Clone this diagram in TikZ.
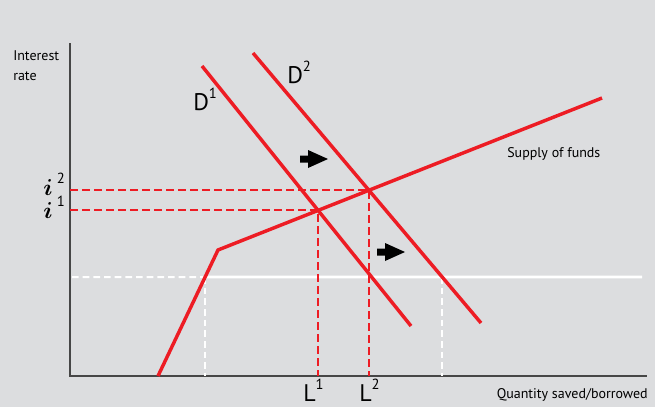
\documentclass[tikz,border=0pt]{standalone}
\usepackage{fontspec}
\usepackage{amsmath}
\setmainfont{PT Sans}
\usetikzlibrary{calc}
\definecolor{bg}{RGB}{220,221,223}
\definecolor{curve}{RGB}{237,28,36}
\definecolor{axis}{RGB}{70,70,70}

\newcommand{\supnum}[1]{\raisebox{9pt}{\fontsize{11}{11}\selectfont #1}}

\begin{document}
\begin{tikzpicture}[
    x=0.75pt, y=-0.75pt,
    ax/.style={axis, line width=1.1pt},
    crv/.style={curve, line width=2.6pt},
    guide/.style={curve, line width=1.6pt, dash pattern=on 6pt off 3pt},
    floor/.style={white, line width=2.2pt},
    floordash/.style={white, line width=1.5pt, dash pattern=on 5pt off 3pt},
    shiftarrow/.style={fill=black},
    lbl/.style={font=\fontsize{10.5}{15}\selectfont, inner sep=0pt},
    big/.style={font=\fontsize{18}{18}\selectfont, inner sep=0pt, anchor=base west},
    rate/.style={big, font=\fontsize{19}{19}\selectfont}
  ]
  % page and panel
  \fill[white] (0,0) rectangle (660,407);
  \fill[bg] (0,0) rectangle (655,407);
  \useasboundingbox (0,0) rectangle (660,407);

  % axes
  \coordinate (O) at (70,376);
  \coordinate (ytop) at (70,43);
  \coordinate (xend) at (647,376);
  \draw[ax] (ytop) -- (O) -- (xend);

  % curve end points
  \coordinate (s0) at (158,376);
  \coordinate (s1) at (218,250);
  \coordinate (s2) at (602,98);
  \coordinate (a1) at (202,66);
  \coordinate (a2) at (411,326);
  \coordinate (b1) at (253,53);
  \coordinate (b2) at (481,323);
  \coordinate (w1) at (72,277);
  \coordinate (w2) at (642,277);

  % crossings
  \coordinate (e1) at (intersection of s1--s2 and a1--a2);
  \coordinate (e2) at (intersection of s1--s2 and b1--b2);
  \coordinate (f1) at (intersection of s0--s1 and w1--w2);
  \coordinate (f2) at (intersection of b1--b2 and w1--w2);

  % white floor line
  \draw[floordash] (w1) -- (f1);
  \draw[floor] (f1) -- (w2);
  \draw[floordash] (f1) -- (f1 |- O);
  \draw[floordash] (f2) -- (f2 |- O);

  % guide lines
  \draw[guide] (O |- e1) -- (e1) -- (e1 |- O);
  \draw[guide] (O |- e2) -- (e2) -- (e2 |- O);

  % supply and demand
  \draw[crv] (s0) -- (s1) -- (s2);
  \draw[crv] (a1) -- (a2);
  \draw[crv] (b1) -- (b2);

  % shift arrows
  \coordinate (m1) at (300,159);
  \coordinate (m2) at (377,252);
  \foreach \m in {m1,m2}
    \fill[shiftarrow] (\m) ++(0,-3.5) -- ++(8,0) -- ++(0,-5.5) -- ++(20,9)
      -- ++(-20,9) -- ++(0,-5.5) -- ++(-8,0) -- cycle;

  % labels
  \node[lbl, anchor=north west, align=left] (yname) at (13,50) {Interest\\rate};
  \node[lbl, anchor=base west] (sname) at (507,157) {Supply of funds};
  \node[lbl, anchor=base east] (xname) at (648,398) {Quantity saved/borrowed};
  \node[big] (d1) at (193,110) {D\supnum{1}};
  \node[big] (d2) at (287,83) {D\supnum{2}};
  \node[big] (l1) at (303,401) {L\supnum{1}};
  \node[big] (l2) at (359,401) {L\supnum{2}};
  \node[rate] (i2) at (43,195) {$\boldsymbol{i}$\,\supnum{2}};
  \node[rate] (i1) at (43,218) {$\boldsymbol{i}$\,\supnum{1}};
\end{tikzpicture}
\end{document}
